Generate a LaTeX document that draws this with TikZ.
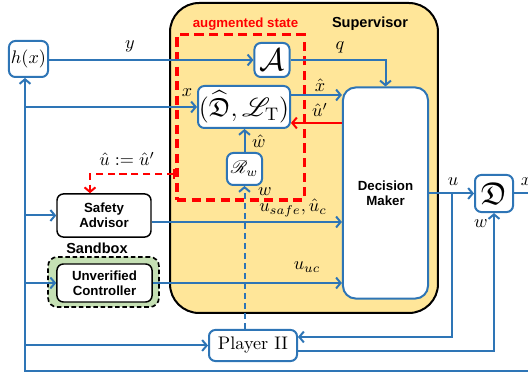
\documentclass[tikz,border=0pt]{standalone}
\usepackage{amssymb}
\usepackage{mathrsfs}
\usepackage{fontspec}
\newfontfamily\arialfont{Liberation Sans}
\usetikzlibrary{arrows.meta}
\definecolor{wireblue}{RGB}{46,117,182}
\definecolor{supfill}{RGB}{255,230,153}
\definecolor{sandfill}{RGB}{197,224,180}
\definecolor{augred}{RGB}{255,0,0}

\begin{document}
\begin{tikzpicture}[x=0.55pt, y=-0.55pt,
    >={Straight Barb[length=2.5pt,width=6pt]},
    blubox/.style={shape=rectangle, draw=wireblue, line width=1.1pt, rounded corners=3.5pt, fill=white, inner sep=0, align=center},
    blkbox/.style={shape=rectangle, draw=black, line width=0.8pt, rounded corners=3.5pt, fill=white, inner sep=0, align=center, font=\arialfont\bfseries\fontsize{7.3}{8.5}\selectfont},
    wire/.style={draw=wireblue, line width=1.1pt},
    redwire/.style={draw=augred, line width=1.1pt},
    lbl/.style={inner sep=0}]
  \useasboundingbox (0,0) rectangle (528,375);
  % Paths, nodes and wires:
  \node[shape=rectangle, draw, fill=supfill, line width=1.1pt, rounded corners=16pt, minimum width=147.4pt, minimum height=170.5pt] (sup) at (304,158){};
  \node[font=\arialfont\bfseries\fontsize{8}{9}\selectfont] (suplbl) at (370,24){Supervisor};
  \node[shape=rectangle, draw=augred, line width=1.7pt, dash pattern={on 5pt off 3pt}, minimum width=69.9pt, minimum height=90.8pt] (aug) at (240.5,117.5){};
  \node[text=augred, font=\arialfont\bfseries\fontsize{7.3}{8.5}\selectfont] (auglbl) at (245.5,24){augmented state};
  \node[shape=rectangle, draw, fill=sandfill, line width=0.9pt, dash pattern={on 2.5pt off 1.5pt}, rounded corners=5pt, minimum width=61pt, minimum height=27.5pt] (sand) at (103.5,282){};
  \node[font=\arialfont\bfseries\fontsize{8}{9}\selectfont] (sandlbl) at (97,248){Sandbox};

  \node[blubox, minimum width=21.5pt, minimum height=19.8pt] (hx) at (28.5,59){$h(x)$};
  \node[blubox, minimum width=19.3pt, minimum height=18.7pt, font=\LARGE] (A) at (272,60){$\mathcal{A}$};
  \node[blubox, minimum width=50.6pt, minimum height=23.1pt, font=\Large] (Dh) at (244,107){$(\widehat{\mathfrak{D}},\mathscr{L}_{\mathrm{T}})$};
  \node[blubox, minimum width=19.3pt, minimum height=17.6pt] (RW) at (244.5,169){$\mathscr{R}_w$};
  \node[blubox, rounded corners=7pt, minimum width=46.8pt, minimum height=116.1pt, font=\arialfont\bfseries\fontsize{7.3}{8.5}\selectfont] (DM) at (385.5,193){Decision\\Maker};
  \node[blubox, minimum width=20.9pt, minimum height=20.4pt, font=\LARGE] (D) at (494,193.5){$\mathfrak{D}$};
  \node[blkbox, minimum width=51.7pt, minimum height=23.7pt] (SA) at (104,215.5){Safety\\Advisor};
  \node[blkbox, minimum width=52.3pt, minimum height=20.9pt] (UC) at (104.5,283){Unverified\\Controller};
  \node[blubox, minimum width=48.4pt, minimum height=17.1pt] (P2) at (253,345.5){Player II};

  \coordinate (fb) at (25,371);
  \coordinate (xout) at (545,371);
  \coordinate (ub) at (452,193.5);

  \draw[wire,->] (hx.east |- A.west) -- (A.west);
  \draw[wire,->] (A.east) -| (DM.north);
  \draw[wire,->] (D.east) -| (xout) -- (fb) -- (fb |- hx.south);
  \draw[wire,->] (fb |- Dh.west) -- (Dh.west);
  \draw[wire,->] (fb |- SA.west) -- (SA.west);
  \draw[wire,->] (fb |- UC.west) -- (UC.west);
  \draw[wire,->] (fb |- P2.west) -- (P2.west);
  \draw[wire,->] (Dh.east |- 0,95) -- (DM.west |- 0,95);
  \draw[redwire,->] (DM.west |- 0,123) -- (Dh.east |- 0,123);
  \draw[wire,->] (RW.north) -- (RW.north |- Dh.south);
  \draw[wire,dash pattern={on 3pt off 2.5pt},->] (P2.north -| RW.south) -- (RW.south);
  \draw[wire,->] (SA.east |- 0,222) -- (DM.west |- 0,222);
  \draw[wire,->] (UC.east) -- (UC.east -| DM.west);
  \draw[wire,->] (DM.east |- D.west) -- (D.west);
  \draw[wire,->] (ub) |- (P2.east |- 0,337);
  \draw[wire,->] (P2.east |- 0,351) -| (D.south);
  \draw[redwire,dash pattern={on 4pt off 2.5pt},arrows={Bar[width=5pt]-Straight Barb[length=2.5pt,width=6pt]}] (aug.west |- 0,174) -| (SA.north -| 90,0);

  \node[lbl] (ylbl) at (130,46){$y$};
  \node[lbl] (qlbl) at (340,47){$q$};
  \node[lbl] (xlbl) at (187,93){$x$};
  \node[lbl] (xhlbl) at (320,85){$\hat{x}$};
  \node[lbl] (uplbl) at (320,110){$\hat{u}'$};
  \node[lbl] (whlbl) at (259,141){$\hat{w}$};
  \node[lbl] (wlbl) at (265,192){$w$};
  \node[lbl] (ulbl) at (127,159){$\hat{u}:=\hat{u}'$};
  \node[lbl] (uslbl) at (293,208){$u_{safe},\hat{u}_c$};
  \node[lbl] (uclbl) at (307,267){$u_{uc}$};
  \node[lbl] (uolbl) at (453,182){$u$};
  \node[lbl] (wdlbl) at (481,224){$w$};
  \node[lbl] (xolbl) at (526,182){$x$};
\end{tikzpicture}
\end{document}
